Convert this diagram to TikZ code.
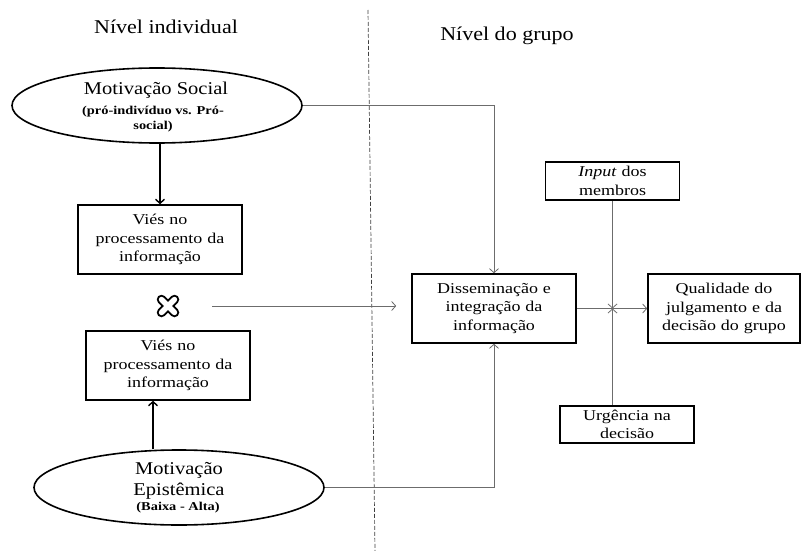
\documentclass[tikz,border=0pt]{standalone}
\usepackage{fontspec}
\setmainfont{Liberation Serif}
\newfontfamily\headfont[FakeStretch=1.13]{Liberation Serif}
\newfontfamily\boxfont[FakeStretch=1.2]{Liberation Serif}
\newfontfamily\ovalfont[FakeStretch=1.14]{Liberation Serif}
\newfontfamily\notefont[FakeStretch=1.2]{Liberation Serif}
\usetikzlibrary{arrows.meta,shapes.geometric,calc}

\tikzset{
  box/.style={draw=black, line width=1.6pt, align=center, inner sep=2pt,
    font=\boxfont\fontsize{15}{18.5}\selectfont},
  oval/.style={ellipse, draw=black, line width=1.6pt, align=center, inner sep=0pt,
    minimum width=290pt, minimum height=75pt},
  conn/.style={draw=gray!85!black, line width=0.8pt,
    -{Straight Barb[length=4pt,width=9pt]}},
  strong/.style={draw=black, line width=1.8pt,
    -{Straight Barb[length=4pt,width=9pt,line width=1.4pt]}},
  heading/.style={font=\headfont\fontsize{19.5}{22}\selectfont},
  bigtxt/.style={font=\ovalfont\fontsize{18}{21}\selectfont},
  smalltxt/.style={font=\notefont\bfseries\fontsize{12}{15}\selectfont},
}

\begin{document}
\begin{tikzpicture}[x=1pt, y=-1pt]
\useasboundingbox[fill=white] (0,0) rectangle (803,551);

% column headings and separator
\node[heading] (hind) at (166,27) {Nível individual};
\node[heading] (hgrp) at (507,36) {Nível do grupo};
\coordinate (septop) at (368,10);
\coordinate (sepbot) at (375,551);
\draw[gray!50!black, line width=0.7pt, dash pattern=on 4pt off 2pt] (septop) -- (sepbot);

% individual level
\node[oval] (e1) at (157,105.5) {};
\node[bigtxt] (e1a) at (156,90) {Motivação Social};
\node[smalltxt, align=center] (e1b) at (153,119.5) {(pró-indivíduo vs. Pró-\\social)};

\node[box, minimum width=164pt, minimum height=69pt, text width=158pt] (b1) at (160,239.5)
  {Viés no\\processamento da\\informação};

% combination mark
\coordinate (xc) at (168,306);
\draw[black, line width=9.5pt, line cap=round] ($(xc)+(-6.5,-6.5)$) -- ($(xc)+(6.5,6.5)$)
  ($(xc)+(-6.5,6.5)$) -- ($(xc)+(6.5,-6.5)$);
\draw[white, line width=5.4pt, line cap=round] ($(xc)+(-6.5,-6.5)$) -- ($(xc)+(6.5,6.5)$)
  ($(xc)+(-6.5,6.5)$) -- ($(xc)+(6.5,-6.5)$);
\node[minimum size=24pt, inner sep=0pt] (cross) at (xc) {};

\node[box, minimum width=164pt, minimum height=69pt, text width=158pt] (b2) at (168,365.5)
  {Viés no\\processamento da\\informação};

\node[oval] (e2) at (179,487.5) {};
\node[bigtxt, align=center] (e2a) at (179,481) {Motivação\\Epistêmica};
\node[smalltxt] (e2b) at (178,508) {(Baixa - Alta)};

% group level
\node[box, minimum width=164pt, minimum height=69pt, text width=158pt] (dis) at (494,308.5)
  {Disseminação e\\integração da\\informação};
\node[box, minimum width=151pt, minimum height=69pt, text width=148pt] (qual) at (724,308.5)
  {Qualidade do\\julgamento e da\\decisão do grupo};
\node[box, minimum width=133pt, minimum height=38pt, text width=130pt,
  font=\boxfont\fontsize{15}{19}\selectfont] (inp) at (612.5,181)
  {\textit{Input} dos\\membros};
\node[box, minimum width=134pt, minimum height=37pt, text width=130pt,
  font=\boxfont\fontsize{15}{18}\selectfont] (urg) at (627,424.5)
  {Urgência na\\decisão};

% connectors
\draw[strong] (b1.north |- e1.south) -- (b1.north);
\draw[strong] ([xshift=-15pt]b2.south |- e2.north) -- ([xshift=-15pt]b2.south);
\draw[conn] (e1.east) -| (dis.north);
\draw[conn] (e2.east) -| (dis.south);
\draw[conn, shorten <=44pt] (cross.center) -- (cross.center -| dis.west) [shorten >=15pt];
\coordinate (mx) at (inp.south |- dis.east);
\draw[conn] (dis.east) -- (qual.west);
\draw[conn] (inp.south) -- (mx);
\draw[conn] (urg.north -| inp.south) -- (mx);
\end{tikzpicture}
\end{document}
